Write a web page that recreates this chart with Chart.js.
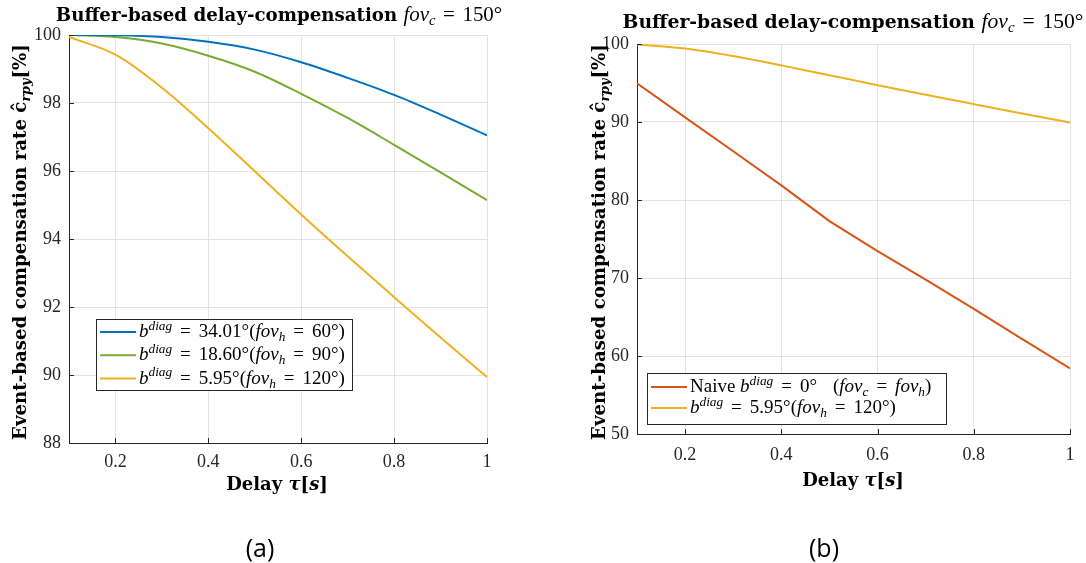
<!DOCTYPE html>
<html>
<head>
<meta charset="utf-8">
<script src="https://cdn.jsdelivr.net/npm/chart.js@4.4.0/dist/chart.umd.min.js"></script>
<style>
  html, body { margin: 0; padding: 0; background: #fff; }
  #wrap { position: relative; width: 1086px; height: 563px; overflow: hidden; }
  .panel { position: absolute; top: 0; width: 543px; height: 563px; }
</style>
</head>
<body>
<div id="wrap">
  <div class="panel" style="left:0"><canvas id="chartA" width="543" height="563"></canvas></div>
  <div class="panel" style="left:543px"><canvas id="chartB" width="543" height="563"></canvas></div>
</div>
<script>
// delay tau [s]
const delay = [0.1, 0.2, 0.3, 0.4, 0.5, 0.6, 0.7, 0.8, 0.9, 1.0];

// compensation rate [%]
const rateFov60 = [100, 99.99, 99.94, 99.80, 99.57, 99.20, 98.74, 98.24, 97.66, 97.05];
const rateFov90 = [100, 99.94, 99.75, 99.39, 98.92, 98.27, 97.56, 96.77, 95.96, 95.14];
const rateFov120 = [99.94, 99.42, 98.45, 97.26, 95.99, 94.72, 93.49, 92.29, 91.10, 89.94];
const rateNaive = [94.95, 90.60, 86.25, 81.88, 77.30, 73.45, 69.80, 66.05, 62.20, 58.40];

const xTicks = [0.2, 0.4, 0.6, 0.8, 1];
const yTicksA = [88, 90, 92, 94, 96, 98, 100];
const yTicksB = [50, 60, 70, 80, 90, 100];

const labelsA = [
  '$b^{diag} = 34.01°(fov_{h} = 60°)$',
  '$b^{diag} = 18.60°(fov_{h} = 90°)$',
  '$b^{diag} = 5.95°(fov_{h} = 120°)$'
];
const labelsB = [
  'Naive $b^{diag} = 0°  (fov_{c} = fov_{h})$',
  '$b^{diag} = 5.95°(fov_{h} = 120°)$'
];

const titleText = 'Buffer-based delay-compensation $fov_{c} = 150°$';
const xTitleText = 'Delay $τ[s]$';
const yTitleText = 'Event-based compensation rate $ĉ_{rpy}[%]$';

const BLUE = '#0072BD', ORANGE = '#D95319', YELLOW = '#EDB120', GREEN = '#77AC30';
const SERIF = '"Liberation Serif", serif';
const SERIF_B = '"DejaVu Serif", serif';
const INK = '#262626';

// tiny markup: $..$ math mode (letters italic), ^{..} sup, _{..} sub
function parseRich(s) {
  const runs = [];
  let math = false;
  const push = (c, level) => {
    const italic = math && /[A-Za-zτ]/.test(c);
    const space = math && c === ' ';
    const last = runs[runs.length - 1];
    if (!space && last && !last.space && last.level === level && last.italic === italic && last.math === math) last.text += c;
    else runs.push({ text: c, level, italic, math, space });
  };
  for (let i = 0; i < s.length; i++) {
    const ch = s[i];
    if (ch === '$') { math = !math; continue; }
    if (math && (ch === '^' || ch === '_') && s[i + 1] === '{') {
      const end = s.indexOf('}', i);
      for (const c of s.slice(i + 2, end)) push(c, ch === '^' ? 1 : -1);
      i = end;
      continue;
    }
    push(ch, 0);
  }
  return runs;
}

function runSize(r, o) {
  const s = r.math ? o.size * (o.mathScale || 1) : o.size;
  return r.level ? s * 0.7 : s;
}

function runFont(r, o) {
  const bold = r.math ? o.mathBold : o.bold;
  return (r.italic ? 'italic ' : '') + (bold ? 'bold ' : '') + runSize(r, o) + 'px ' + (bold ? SERIF_B : SERIF);
}

function drawRich(ctx, str, x, y, o) {
  const runs = parseRich(str);
  let w = 0;
  runs.forEach(r => {
    ctx.font = runFont(r, o);
    r.w = r.space ? runSize(r, o) * (o.mathSpace || 0.36) : ctx.measureText(r.text).width;
    w += r.w;
  });
  let cx = o.align === 'center' ? x - w / 2 : x;
  ctx.textAlign = 'left';
  ctx.textBaseline = 'alphabetic';
  runs.forEach(r => {
    if (!r.space) {
      ctx.font = runFont(r, o);
      const dy = r.level === 1 ? -o.size * 0.38 : r.level === -1 ? o.size * 0.22 : 0;
      ctx.fillText(r.text, cx, y + dy);
    }
    cx += r.w;
  });
}

const matlabDecor = {
  id: 'matlabDecor',
  afterDatasetsDraw(chart) {
    const ctx = chart.ctx, a = chart.chartArea;
    ctx.save();
    ctx.strokeStyle = INK;
    ctx.lineWidth = 1;
    ctx.beginPath();
    chart.scales.x.ticks.forEach(t => {
      const px = Math.round(chart.scales.x.getPixelForValue(t.value)) + 0.5;
      ctx.moveTo(px, a.bottom); ctx.lineTo(px, a.bottom - 5);
    });
    chart.scales.y.ticks.forEach(t => {
      const py = Math.round(chart.scales.y.getPixelForValue(t.value)) + 0.5;
      ctx.moveTo(a.left, py); ctx.lineTo(a.left + 5, py);
    });
    ctx.stroke();
    ctx.restore();
  },
  afterDraw(chart, args, o) {
    const ctx = chart.ctx;
    ctx.save();
    ctx.fillStyle = '#000';
    drawRich(ctx, titleText, o.titleX, o.titleY, { size: o.titleSize, mathScale: 1.15, bold: true, mathBold: false, align: 'center' });
    drawRich(ctx, xTitleText, o.xTitleX, o.xTitleY, { size: 18, bold: true, mathBold: true, align: 'center' });
    ctx.save();
    ctx.translate(o.yTitleX, o.yTitleY);
    ctx.rotate(-Math.PI / 2);
    drawRich(ctx, yTitleText, 0, 0, { size: o.yTitleSize, bold: true, mathBold: true, align: 'center' });
    ctx.restore();

    // legend
    const L = o.legend;
    ctx.fillStyle = '#fff';
    ctx.fillRect(L.x, L.y, L.w, L.h);
    ctx.strokeStyle = INK;
    ctx.lineWidth = 1;
    ctx.strokeRect(L.x + 0.5, L.y + 0.5, L.w, L.h);
    chart.data.datasets.forEach((ds, i) => {
      const base = L.y + L.first + i * L.row;
      ctx.strokeStyle = ds.borderColor;
      ctx.lineWidth = 2;
      ctx.beginPath();
      ctx.moveTo(L.x + 4, base - 5);
      ctx.lineTo(L.x + 40, base - 5);
      ctx.stroke();
      ctx.fillStyle = '#000';
      drawRich(ctx, ds.label, L.x + 43, base, { size: L.size, mathSpace: 0.42, bold: false, mathBold: false, align: 'left' });
    });

    // caption
    ctx.fillStyle = '#000';
    ctx.font = '25px "Open Sans", sans-serif';
    ctx.textAlign = 'center';
    ctx.textBaseline = 'alphabetic';
    ctx.fillText(o.caption, o.captionX, 557);
    ctx.restore();
  }
};

function makeChart(id, datasets, yMin, yMax, yTicks, lay, decor) {
  return new Chart(document.getElementById(id), {
    type: 'line',
    data: {
      datasets: datasets.map(d => ({
        label: d.label,
        data: delay.map((x, i) => ({ x, y: d.values[i] })),
        borderColor: d.color,
        borderWidth: 2,
        pointRadius: 0,
        fill: false,
        cubicInterpolationMode: d.smooth ? 'monotone' : 'default',
        tension: 0
      }))
    },
    options: {
      responsive: false,
      animation: false,
      events: [],
      layout: { padding: { left: 0, top: lay.top, right: lay.right, bottom: 0 } },
      scales: {
        x: {
          type: 'linear', min: 0.1, max: 1,
          afterBuildTicks: s => { s.ticks = xTicks.map(v => ({ value: v })); },
          afterFit: s => { s.height = lay.xH; },
          grid: { color: '#e3e3e3', drawTicks: false },
          border: { color: INK, width: 1 },
          ticks: { font: { family: SERIF, size: 18 }, color: INK, padding: lay.xPad, maxRotation: 0, callback: v => String(v) }
        },
        y: {
          type: 'linear', min: yMin, max: yMax,
          afterBuildTicks: s => { s.ticks = yTicks.map(v => ({ value: v })); },
          afterFit: s => { s.width = lay.yW; },
          grid: { color: '#e3e3e3', drawTicks: false },
          border: { color: INK, width: 1 },
          ticks: { font: { family: SERIF, size: 18 }, color: INK, padding: 8, callback: v => String(v) }
        }
      },
      plugins: {
        legend: { display: false },
        title: { display: false },
        tooltip: { enabled: false },
        matlabDecor: decor
      }
    },
    plugins: [matlabDecor]
  });
}

makeChart('chartA', [
  { label: labelsA[0], values: rateFov60, color: BLUE, smooth: true },
  { label: labelsA[1], values: rateFov90, color: GREEN, smooth: true },
  { label: labelsA[2], values: rateFov120, color: YELLOW, smooth: true }
], 88, 100, yTicksA, { top: 35, right: 56, xH: 120, yW: 69, xPad: 8 }, {
  titleX: 279, titleY: 21, titleSize: 18.2,
  xTitleX: 277, xTitleY: 490,
  yTitleX: 26, yTitleY: 242, yTitleSize: 18.2,
  legend: { x: 96, y: 319, w: 256, h: 71, first: 18, row: 23.3, size: 19 },
  caption: '(a)', captionX: 260
});

makeChart('chartB', [
  { label: labelsB[0], values: rateNaive, color: ORANGE, smooth: false },
  { label: labelsB[1], values: rateFov120, color: YELLOW, smooth: true }
], 50, 100, yTicksB, { top: 44, right: 16, xH: 129, yW: 94, xPad: 10 }, {
  titleX: 310, titleY: 28, titleSize: 18.8,
  xTitleX: 310, xTitleY: 486,
  yTitleX: 62, yTitleY: 242, yTitleSize: 18.2,
  legend: { x: 104, y: 373, w: 299, h: 51, first: 19, row: 21, size: 19 },
  caption: '(b)', captionX: 281
});
</script>
</body>
</html>
